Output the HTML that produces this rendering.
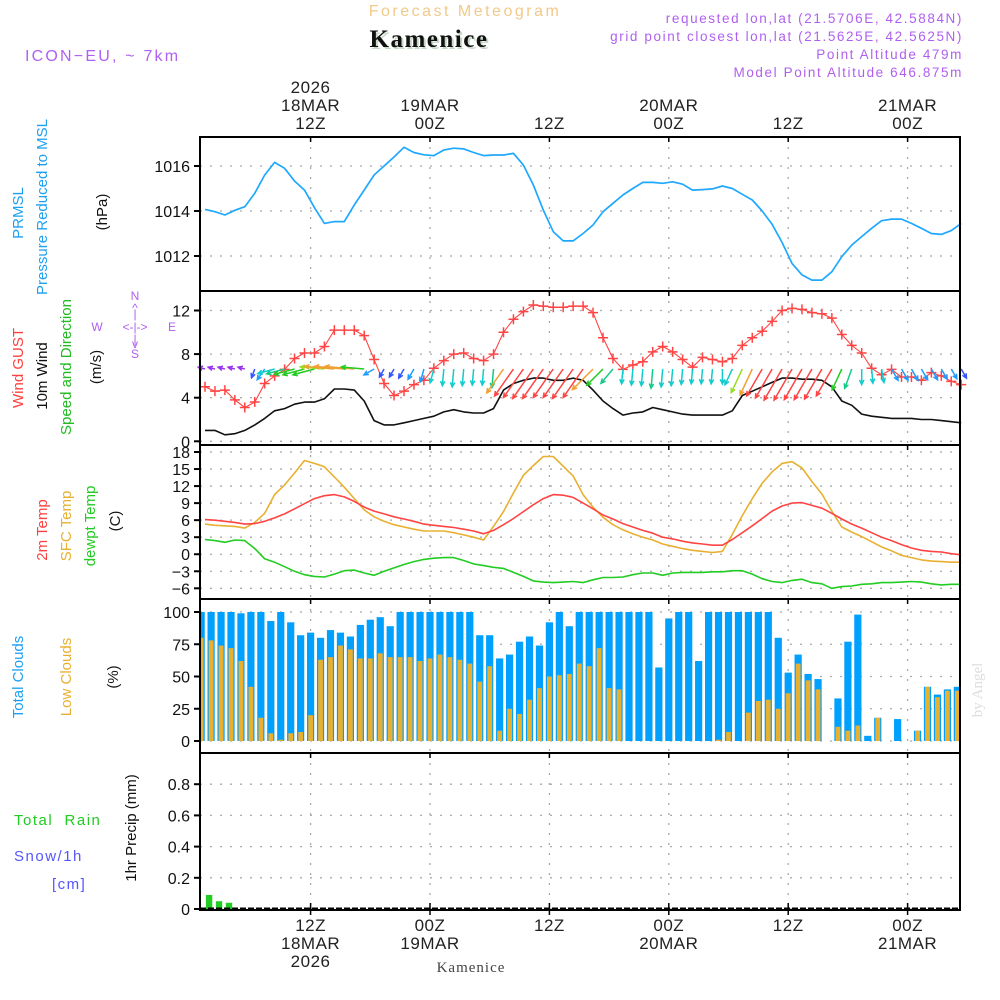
<!DOCTYPE html>
<html><head><meta charset="utf-8"><style>
html,body{margin:0;padding:0;background:#fff;}
svg{display:block;font-family:"Liberation Sans",sans-serif;}
.tk{font-size:16px;fill:#111;text-anchor:end;}
.tl{font-size:17px;fill:#222;text-anchor:middle;letter-spacing:0.5px;}
.rl{font-size:15px;text-anchor:middle;}
.hd{font-size:13.5px;fill:#b060f0;letter-spacing:1.6px;text-anchor:end;}
</style></head><body>
<svg id="chart" width="1000" height="1000" viewBox="0 0 1000 1000" xmlns="http://www.w3.org/2000/svg">
<g>
<text x="465" y="16" font-size="16" fill="#f2c98a" text-anchor="middle" letter-spacing="2.5">Forecast Meteogram</text>
<text x="431" y="49" font-family="Liberation Serif, serif" font-weight="bold" font-size="25" fill="#c8d8c8" text-anchor="middle" letter-spacing="1.5">Kamenice</text>
<text x="429" y="47" font-family="Liberation Serif, serif" font-weight="bold" font-size="25" fill="#111" text-anchor="middle" letter-spacing="1.5">Kamenice</text>
<text x="25" y="61" font-size="16" fill="#b060f0" letter-spacing="2.2">ICON−EU, ~ 7km</text>
<text class="hd" x="963" y="23">requested lon,lat (21.5706E, 42.5884N)</text>
<text class="hd" x="963" y="41">grid point closest lon,lat (21.5625E, 42.5625N)</text>
<text class="hd" x="963" y="59">Point Altitude 479m</text>
<text class="hd" x="963" y="77">Model Point Altitude 646.875m</text>
</g>
<g>
<text class="rl" transform="translate(23,213) rotate(-90)" fill="#1ea0f0">PRMSL</text>
<text class="rl" transform="translate(47,207) rotate(-90)" fill="#1ea0f0">Pressure Reduced to MSL</text>
<text class="rl" transform="translate(107,212) rotate(-90)" fill="#111">(hPa)</text>
<text class="rl" transform="translate(23,368) rotate(-90)" fill="#ff4040">Wind GUST</text>
<text class="rl" transform="translate(47,376) rotate(-90)" fill="#111">10m Wind</text>
<text class="rl" transform="translate(71,367) rotate(-90)" fill="#22bb22">Speed and Direction</text>
<text class="rl" transform="translate(101,367) rotate(-90)" fill="#111">(m/s)</text>
<g fill="#b060f0" font-size="12" text-anchor="middle">
<text x="135" y="300">N</text><text x="135" y="312">^</text><text x="135" y="318">|</text>
<text x="97" y="331">W</text><text x="135" y="331">&lt;-|-&gt;</text><text x="172" y="331">E</text>
<text x="135" y="343">|</text><text x="135" y="348">v</text><text x="135" y="358">S</text>
</g>
<text class="rl" transform="translate(47,530) rotate(-90)" fill="#ff4040">2m Temp</text>
<text class="rl" transform="translate(71,526) rotate(-90)" fill="#e8b030">SFC Temp</text>
<text class="rl" transform="translate(95,526) rotate(-90)" fill="#22cc22">dewpt Temp</text>
<text class="rl" transform="translate(120,521) rotate(-90)" fill="#111">(C)</text>
<text class="rl" transform="translate(23,677) rotate(-90)" fill="#1ea0f0">Total Clouds</text>
<text class="rl" transform="translate(71,677) rotate(-90)" fill="#e8b030">Low Clouds</text>
<text class="rl" transform="translate(118,677) rotate(-90)" fill="#111">(%)</text>
<text x="14" y="825" font-size="15" fill="#22cc22" letter-spacing="1.5" xml:space="preserve">Total  Rain</text>
<text x="14" y="861" font-size="15" fill="#5555ff" letter-spacing="1.5">Snow/1h</text>
<text x="52" y="889" font-size="15" fill="#5555ff" letter-spacing="1.5">[cm]</text>
<text class="rl" transform="translate(136,828) rotate(-90)" fill="#111">1hr Precip (mm)</text>
</g>
<text transform="translate(982,690) rotate(-90)" font-family="Liberation Serif, serif" font-size="15" fill="#dddddd" text-anchor="middle">by Angel</text>
<text x="471" y="972" font-family="Liberation Serif, serif" font-size="15" fill="#444" text-anchor="middle" letter-spacing="1">Kamenice</text>
<g id="grid"></g>
<g id="marks"></g>
<g id="frames"></g>
<g id="axes"></g>
</svg>
<script>
// ---- data (hourly, starting 01Z 18MAR2026) ----
const pressure = [1014.07,1013.97,1013.82,1014.03,1014.19,1014.79,1015.6,1016.16,1015.9,1015.33,1014.93,1014.15,1013.45,1013.53,1013.53,1014.27,1014.93,1015.6,1016.0,1016.4,1016.83,1016.6,1016.5,1016.46,1016.71,1016.79,1016.76,1016.6,1016.46,1016.49,1016.49,1016.56,1016.04,1015.16,1014.04,1013.08,1012.67,1012.67,1013.0,1013.38,1013.97,1014.34,1014.71,1015.0,1015.27,1015.27,1015.23,1015.3,1015.19,1014.93,1014.95,1014.98,1015.11,1015.0,1014.74,1014.49,1014.0,1013.41,1012.6,1011.67,1011.16,1010.93,1010.93,1011.3,1011.97,1012.49,1012.86,1013.23,1013.57,1013.64,1013.64,1013.45,1013.23,1013.0,1012.96,1013.13,1013.45];
const gust = [5.0,4.6,4.7,3.8,3.1,3.6,5.3,6.0,6.6,7.6,8.1,8.1,8.7,10.2,10.2,10.2,9.7,7.5,5.3,4.2,4.6,5.2,5.6,6.7,7.4,8.0,8.1,7.6,7.4,8.0,10.0,11.2,11.9,12.5,12.4,12.3,12.3,12.4,12.4,11.8,9.5,7.6,6.6,7.0,7.3,8.2,8.7,8.2,7.5,6.8,7.7,7.5,7.3,7.6,8.8,9.5,10.1,11.0,12.0,12.2,12.1,11.8,11.7,11.3,9.8,8.8,8.1,6.7,6.1,6.6,5.9,5.9,5.6,6.3,6.0,5.5,5.2];
const wind = [1.0,1.0,0.6,0.7,1.0,1.5,2.1,2.8,3.0,3.4,3.6,3.6,3.9,4.8,4.8,4.7,3.7,1.9,1.5,1.5,1.7,1.9,2.1,2.3,2.7,2.9,2.7,2.6,2.6,3.0,4.7,5.3,5.6,5.8,5.8,5.6,5.6,5.8,5.6,4.7,3.7,3.0,2.4,2.6,2.7,3.1,2.9,2.7,2.5,2.4,2.4,2.4,2.4,2.8,4.2,4.6,5.0,5.4,5.8,5.8,5.7,5.7,5.6,5.0,3.7,3.3,2.5,2.3,2.2,2.1,2.1,2.1,2.0,2.0,1.9,1.8,1.7];
const windDir = [105,105,105,105,105,20,35,75,75,75,75,75,95,95,95,95,95,60,30,30,30,30,15,15,5,5,5,5,5,5,35,35,35,35,35,35,35,35,35,45,45,40,5,5,5,5,5,5,5,5,5,5,0,25,25,25,30,30,30,30,30,30,30,30,25,20,0,355,350,330,330,330,330,330,330,330,330];
const t2m = [6.1,6.0,5.8,5.6,5.3,5.4,5.8,6.4,7.1,8.0,8.9,9.8,10.3,10.5,10.1,9.3,8.3,7.6,7.1,6.6,6.2,5.8,5.3,5.1,4.9,4.7,4.4,4.1,3.6,4.2,5.2,6.3,7.5,8.7,9.8,10.5,10.4,10.0,9.0,8.0,6.9,6.2,5.4,4.8,4.2,3.7,3.0,2.7,2.3,2.0,1.8,1.6,1.6,2.6,3.8,5.0,6.3,7.6,8.5,9.0,9.1,8.6,8.1,7.2,6.2,5.3,4.6,3.8,3.0,2.4,1.7,1.1,0.7,0.5,0.4,0.1,-0.1];
const tsfc = [5.3,5.1,5.0,4.9,4.6,5.6,7.2,10.5,12.2,14.3,16.5,16.0,15.4,13.6,11.8,9.8,7.8,6.6,5.8,5.2,4.8,4.4,4.1,4.1,4.1,3.8,3.4,3.0,2.5,4.9,7.5,10.8,13.9,15.6,17.2,17.2,15.5,13.8,10.5,8.3,6.5,5.2,4.3,3.6,3.0,2.5,1.8,1.4,1.0,0.7,0.5,0.3,0.5,3.5,6.8,9.8,12.5,14.5,16.0,16.3,15.2,12.8,10.6,7.6,4.8,3.9,3.1,2.2,1.3,0.6,-0.2,-0.6,-1.0,-1.2,-1.3,-1.4,-1.4];
const tdew = [2.6,2.4,2.1,2.5,2.4,1.0,-0.8,-1.4,-2.2,-3.0,-3.6,-3.9,-4.0,-3.5,-2.9,-2.8,-3.3,-3.7,-3.0,-2.4,-1.8,-1.3,-0.9,-0.7,-0.6,-0.6,-1.1,-1.7,-2.0,-2.3,-2.5,-3.2,-3.9,-4.7,-4.9,-5.0,-4.9,-4.8,-5.0,-4.5,-4.1,-4.1,-4.0,-3.6,-3.3,-3.3,-3.7,-3.3,-3.2,-3.2,-3.2,-3.1,-3.1,-2.9,-2.9,-3.5,-4.3,-4.8,-5.0,-4.6,-4.4,-5.0,-5.2,-6.0,-5.7,-5.6,-5.3,-5.2,-5.0,-5.0,-4.9,-4.8,-4.9,-5.2,-5.4,-5.3,-5.3];
const cloudTotal = [100,100,100,100,99,100,100,93,100,92,82,84,80,86,84,81,90,94,96,89,100,100,100,100,100,100,100,100,82,82,64,67,77,81,74,92,100,89,100,100,100,100,100,100,100,100,57,95,100,100,62,100,100,100,100,100,100,100,80,53,67,52,48,0,33,77,98,4,18,0,17,0,8,42,36,40,42];
const cloudLow = [80,78,74,72,62,42,18,6,1,6,7,20,63,65,74,71,64,64,68,65,65,65,62,64,67,65,63,60,46,58,8,25,21,32,41,50,51,52,60,58,72,41,40,0,0,0,0,0,0,0,0,0,1,7,0,22,31,32,25,37,60,47,40,0,11,8,12,0,18,0,0,0,8,42,34,39,39];
const precip = [0,0.09,0.05,0.04,0,0,0,0,0,0,0,0,0,0,0,0,0,0,0,0,0,0,0,0,0,0,0,0,0,0,0,0,0,0,0,0,0,0,0,0,0,0,0,0,0,0,0,0,0,0,0,0,0,0,0,0,0,0,0,0,0,0,0,0,0,0,0,0,0,0,0,0,0,0,0,0,0];
const pTicks = [1012,1014,1016];
const wTicks = [0,4,8,12];
const tTicks = [-6,-3,0,3,6,9,12,15,18];
const cTicks = [0,25,50,75,100];
const rTicks = [0,0.2,0.4,0.6,0.8];
const timeTicks = [12,24,36,48,60,72];
const topLabels = [["2026","18MAR","12Z"],["","19MAR","00Z"],["","","12Z"],["","20MAR","00Z"],["","","12Z"],["","21MAR","00Z"]];
const botLabels = [["12Z","18MAR","2026"],["00Z","19MAR",""],["12Z","",""],["00Z","20MAR",""],["12Z","",""],["00Z","21MAR",""]];

// ---- axis functions ----
const X0=200, X1=960;
const xH = h => 430 + (h-24)*9.95;
const xLine = i => 205 + i*9.95;
const xBar = i => xH(i+1);
const yP = p => 166 + (1016-p)*22.5;
const yW = v => 441.3 - v*10.9;
const yT = t => 452 + (18-t)*5.68;
const yC = c => 741 - c*1.29;
const yR = r => 909 - r*156;
const panels = [[137,291,yP,pTicks,'pressure'],[291,445,yW,wTicks,'wind'],[445,599,yT,tTicks,'temperature'],[599,753,yC,cTicks,'clouds'],[753,910,yR,rTicks,'precip']];

const NS='http://www.w3.org/2000/svg';
function mk(tag, attrs, parent){const e=document.createElementNS(NS,tag);for(const k in attrs)e.setAttribute(k,attrs[k]);parent.appendChild(e);return e;}
const grid=document.getElementById('grid'), marks=document.getElementById('marks'), frames=document.getElementById('frames'), axes=document.getElementById('axes');

panels.forEach(([top,bot,ys,ticks,nm])=>{
  ticks.forEach(v=>{
    const y=ys(v);
    const gl=mk('line',{x1:X0,x2:X1,y1:y,y2:y,stroke:'#aaa','stroke-width':1.3,'stroke-dasharray':'2,8'},grid);
    
    
    const tk=mk('line',{x1:194,x2:201,y1:y,y2:y,stroke:'#000','stroke-width':2},axes);
    
    
    const t=mk('text',{x:190,y:y+6,class:'tk'},axes);
    t.textContent = (v<0?'−'+Math.abs(v):String(v));
    
    
  });
  timeTicks.forEach(h=>{
    const x=xH(h);
    const vl=mk('line',{x1:x,x2:x,y1:top,y2:bot,stroke:'#aaa','stroke-width':1.3,'stroke-dasharray':'2,8'},grid);
    
    
    mk('line',{x1:x,x2:x,y1:top,y2:top+5,stroke:'#000','stroke-width':1.5},axes);
  });
  const fr=mk('rect',{x:X0,y:top,width:X1-X0,height:bot-top,fill:'none',stroke:'#000','stroke-width':2},frames);
  
  
});

timeTicks.forEach((h,k)=>{
  const x=xH(h);
  [93,111,129].forEach((y,j)=>{ if(topLabels[k][j]){const t=mk('text',{x:x,y:y,class:'tl'},axes);t.textContent=topLabels[k][j];
    
    }});
  [931,949,967].forEach((y,j)=>{ if(botLabels[k][j]){const t=mk('text',{x:x,y:y,class:'tl'},axes);t.textContent=botLabels[k][j];
    
    }});
  const bt=mk('line',{x1:x,x2:x,y1:903,y2:915,stroke:'#000','stroke-width':1.5},axes);
  
  
});

function polyline(arr, ys, color, name, w){
  const pts=arr.map((v,i)=>xLine(i).toFixed(1)+','+ys(v).toFixed(1)).join(' ');
  const p=mk('polyline',{points:pts,fill:'none',stroke:color,'stroke-width':w||1.6,'stroke-linejoin':'round'},marks);
  
  
}
const clip=mk('clipPath',{id:'plotclip'},marks);
mk('rect',{x:X0,y:0,width:X1-X0,height:1000},clip);
const barG=mk('g',{'clip-path':'url(#plotclip)'},marks);


cloudTotal.forEach((c,i)=>{
  if(c<=0) return;
  const x=xBar(i);
  const r=mk('rect',{x:x-3.6,y:yC(c),width:7.2,height:yC(0)-yC(c),fill:'#00a0ff'},barG);
  
  
});
cloudLow.forEach((c,i)=>{
  if(c<=0) return;
  const x=xBar(i);
  const r=mk('rect',{x:x-2.4,y:yC(c),width:4.8,height:yC(0)-yC(c),fill:'#e8b030'},barG);
  
  
});
precip.forEach((v,i)=>{
  if(v<=0) return;
  const x=xBar(i)-2;
  const r=mk('rect',{x:x-3.2,y:yR(v),width:6.4,height:yR(0)-yR(v),fill:'#22cc22'},barG);
  
  
});
const base=mk('line',{x1:X0,x2:X1,y1:908.5,y2:908.5,stroke:'#000','stroke-width':2,'stroke-dasharray':'6,2'},marks);



polyline(pressure, yP, '#1ea8ff', 'pressure-line', 1.7);
polyline(wind, yW, '#111', 'wind-speed-line', 1.6);
polyline(gust, yW, '#ff4444', 'gust-line', 1.1);
gust.forEach((g,i)=>{
  const x=xLine(i), y=yW(g);
  const p=mk('path',{d:`M${x-5},${y}H${x+5}M${x},${y-5}V${y+5}`,stroke:'#ff4444','stroke-width':1.5},marks);
  
  
});
polyline(tdew, yT, '#22cc22', 'dewpoint-line', 1.6);
polyline(tsfc, yT, '#e8b030', 'sfc-temp-line', 1.6);
polyline(t2m, yT, '#ff4444', 'temp-2m-line', 1.6);

function windColor(s){
  if(s<1.2) return '#9933ee'; if(s<1.8) return '#3355ff'; if(s<2.2) return '#1e9cff';
  if(s<3.0) return '#11cccc'; if(s<3.4) return '#11cc88'; if(s<3.8) return '#22cc22';
  if(s<4.3) return '#99dd22'; if(s<4.5) return '#e8d030'; if(s<5.0) return '#f0a030'; return '#ff4444';
}
windDir.forEach((d,i)=>{
  const s=wind[i], L=Math.max(7,6.2*s), a=d*Math.PI/180;
  const x=xLine(i), y=369;
  const dx=-Math.sin(a)*L, dy=Math.cos(a)*L;
  const hx=x+dx, hy=y+dy, ang=Math.atan2(-dy,-dx), hl=5;
  const h1x=hx+hl*Math.cos(ang+0.45), h1y=hy+hl*Math.sin(ang+0.45);
  const h2x=hx+hl*Math.cos(ang-0.45), h2y=hy+hl*Math.sin(ang-0.45);
  const p=mk('path',{d:`M${x},${y}L${hx},${hy}M${h1x},${h1y}L${hx},${hy}L${h2x},${h2y}`,fill:'none',stroke:windColor(s),'stroke-width':1.5},marks);
  
  
});
</script>
</body></html>
